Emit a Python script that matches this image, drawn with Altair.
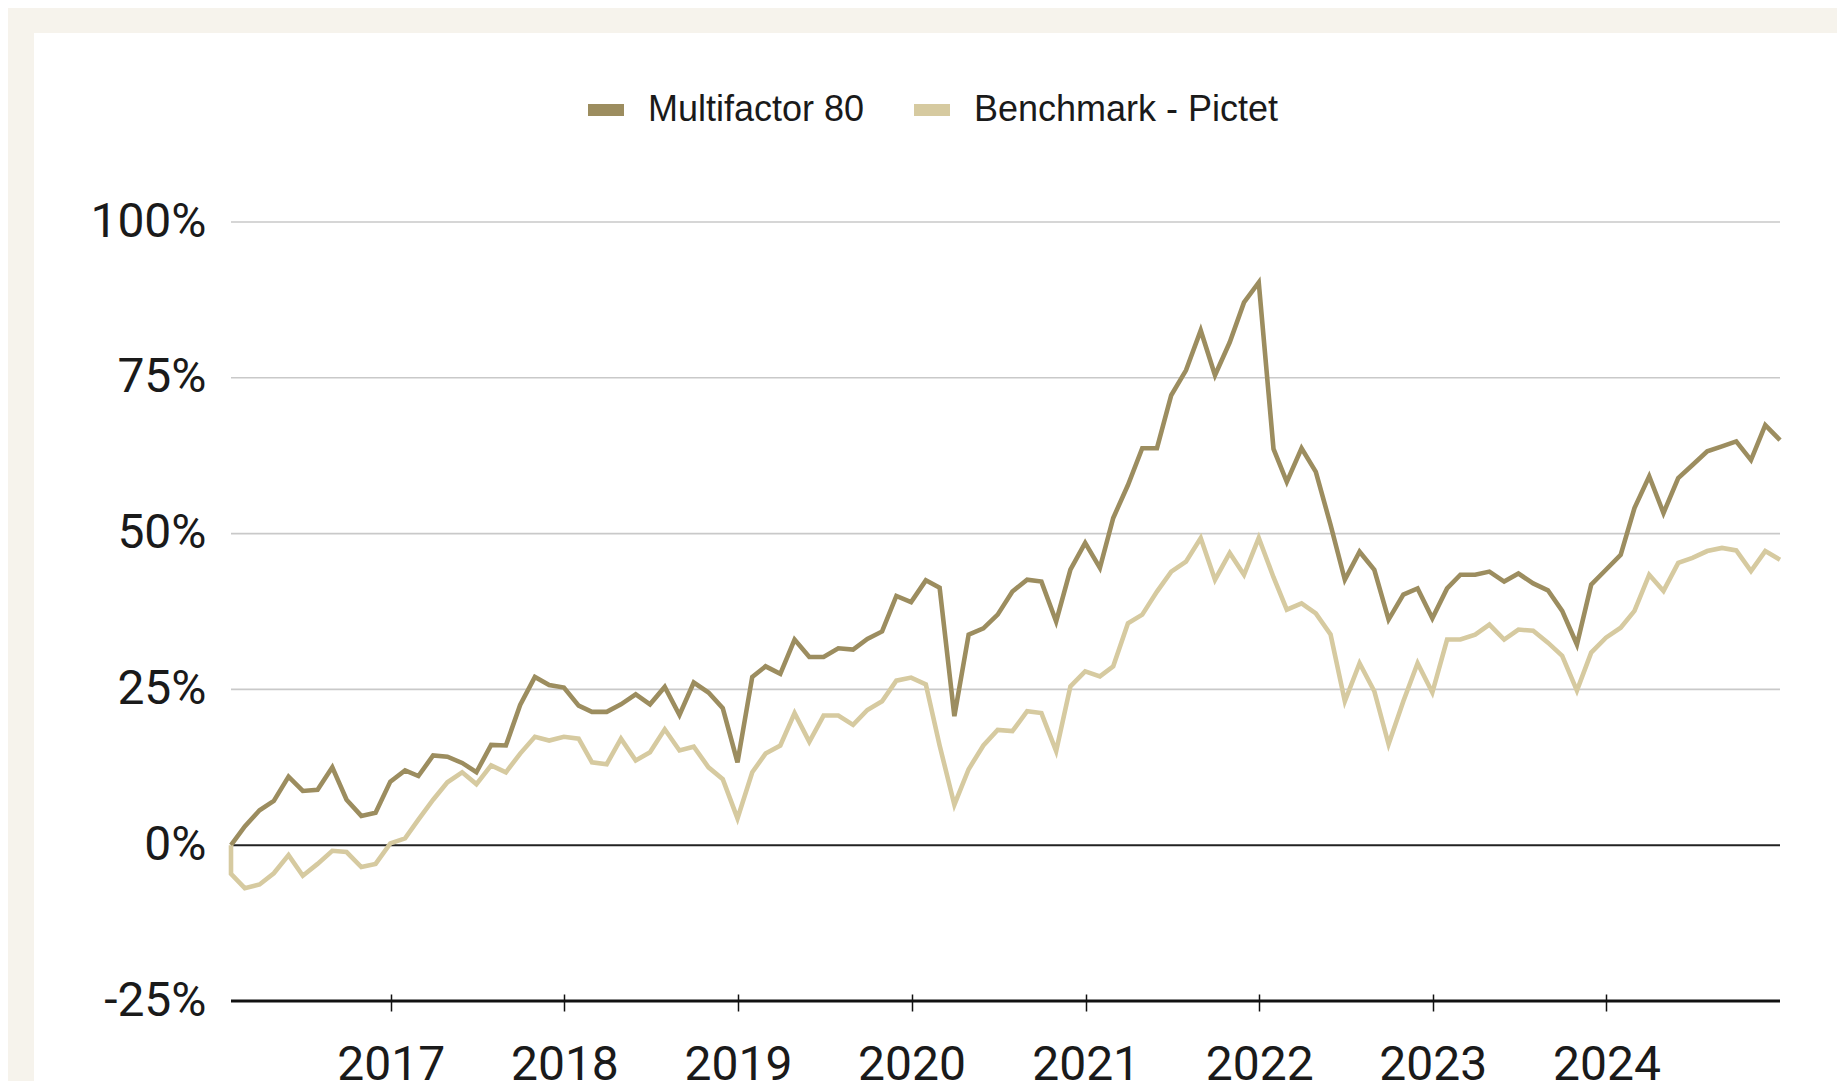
import altair as alt
import pandas as pd

# ---------------- data ----------------
series_names = ["Multifactor 80", "Benchmark - Pictet"]
line_colors = ["#9c8d5f", "#d6caa0"]

# month-end dates, Jan 2016 .. Dec 2024
dates = (pd.date_range("2016-02-01", periods=108, freq="MS") - pd.Timedelta(days=1)).strftime("%Y-%m-%d").tolist()

multifactor = [
    0.0, 3.0, 5.6, 7.1, 11.0, 8.7, 8.9, 12.5, 7.3, 4.7, 5.2, 10.2,
    12.0, 11.1, 14.4, 14.2, 13.2, 11.7, 16.1, 16.0, 22.5, 27.0, 25.7, 25.3,
    22.4, 21.4, 21.4, 22.6, 24.2, 22.6, 25.4, 20.9, 26.1, 24.5, 22.0, 13.3,
    27.0, 28.7, 27.5, 33.0, 30.2, 30.2, 31.6, 31.4, 33.1, 34.3, 40.0, 39.0,
    42.5, 41.3, 20.7, 33.8, 34.8, 37.0, 40.7, 42.6, 42.3, 35.9, 44.2, 48.5,
    44.5, 52.5, 57.8, 63.7, 63.7, 72.2, 76.2, 82.6, 75.4, 80.7, 87.1, 90.3,
    63.6, 58.3, 63.7, 59.9, 51.4, 42.6, 47.1, 44.2, 36.2, 40.2, 41.2, 36.4,
    41.2, 43.4, 43.4, 43.9, 42.3, 43.6, 42.0, 40.9, 37.6, 32.2, 41.8, 44.2,
    46.6, 54.1, 59.2, 53.3, 58.9, 61.0, 63.2, 64.0, 64.8, 61.8, 67.4, 65.0,
]

benchmark_start = 0.0
benchmark = [
    -4.6, -6.9, -6.3, -4.5, -1.6, -4.9, -3.0, -0.9, -1.1, -3.5, -3.0, 0.3,
    1.1, 4.1, 7.3, 10.1, 11.7, 9.8, 12.8, 11.7, 14.7, 17.4, 16.8, 17.4,
    17.1, 13.3, 13.0, 17.1, 13.6, 14.9, 18.6, 15.2, 15.8, 12.5, 10.6, 4.3,
    11.7, 14.7, 16.0, 21.2, 16.6, 20.8, 20.8, 19.3, 21.7, 23.1, 26.4, 26.9,
    25.8, 16.0, 6.5, 12.2, 16.0, 18.5, 18.3, 21.5, 21.2, 15.1, 25.5, 27.9,
    27.1, 28.7, 35.6, 37.0, 40.7, 43.9, 45.5, 49.3, 42.6, 46.9, 43.4, 49.3,
    43.0, 37.8, 38.8, 37.2, 33.8, 23.1, 29.2, 24.7, 16.2, 23.1, 29.2, 24.5,
    33.0, 33.0, 33.8, 35.4, 33.0, 34.6, 34.4, 32.5, 30.4, 24.8, 30.9, 33.3,
    34.9, 37.6, 43.4, 40.8, 45.3, 46.1, 47.2, 47.7, 47.3, 44.0, 47.2, 45.8,
]

y_ticks = [-0.25, 0.0, 0.25, 0.5, 0.75, 1.0]
x_tick_years = [2017, 2018, 2019, 2020, 2021, 2022, 2023, 2024]

# ---------------- tables ----------------
rows = []
for i, (d, v) in enumerate(zip(dates, multifactor)):
    rows.append({"date": d, "value": v / 100, "series": series_names[0], "order": i})
rows.append({"date": dates[0], "value": benchmark_start / 100, "series": series_names[1], "order": -1})
for i, (d, v) in enumerate(zip(dates, benchmark)):
    rows.append({"date": d, "value": v / 100, "series": series_names[1], "order": i})
df = pd.DataFrame(rows)

grid_df = pd.DataFrame({"value": [t for t in y_ticks if t > 0]})
zero_df = pd.DataFrame({"value": [0.0]})
base_df = pd.DataFrame({"value": [min(y_ticks)]})

W, H = 1549, 779
TEXT = "#1a1a1a"

y_scale = alt.Scale(domain=[min(y_ticks), max(y_ticks)], nice=False, zero=False)
y_axis = alt.Axis(
    values=y_ticks,
    labelExpr="'' + round(datum.value * 100) + '%'",
    labelFont="Roboto",
    labelFontSize=48,
    labelColor=TEXT,
    domain=False,
    ticks=False,
    tickSize=0,
    grid=False,
    labelPadding=25,
    zindex=1,
)
y_enc = alt.Y("value:Q", scale=y_scale, title=None, axis=y_axis)

card = alt.Chart(pd.DataFrame({"k": [0]})).mark_rect(color="white").encode(
    x=alt.value(-197), x2=alt.value(1610), y=alt.value(-189), y2=alt.value(900)
)

grid = alt.Chart(grid_df).mark_rule(color="#c9c9c9", strokeWidth=1.6).encode(y=y_enc)

lines = alt.Chart(df).mark_line(strokeWidth=4.6, strokeJoin="miter").encode(
    x=alt.X(
        "date:T",
        title=None,
        axis=alt.Axis(
            values=[alt.DateTime(year=y, month=1, date=1) for y in x_tick_years],
            format="%Y",
            labelFont="Roboto",
            labelFontSize=48,
            labelColor=TEXT,
            domain=False,
            ticks=True,
            tickSize=17,
            tickColor="#111111",
            tickWidth=1.5,
            offset=-7,
            labelPadding=30,
            grid=False,
            labelFlush=False,
            zindex=1,
        ),
    ),
    y=y_enc,
    color=alt.Color(
        "series:N",
        scale=alt.Scale(domain=series_names, range=line_colors),
        sort=series_names,
        legend=alt.Legend(
            title=None,
            orient="none",
            direction="horizontal",
            legendX=351,
            legendY=-136,
            symbolType="stroke",
            symbolSize=1296,
            symbolStrokeWidth=12,
            labelFont="Liberation Sans",
            labelFontSize=36,
            labelColor=TEXT,
            labelOffset=18,
            labelLimit=0,
            columnPadding=25,
            padding=0,
            zindex=1,
        ),
    ),
    order=alt.Order("order:Q"),
)

zero_rule = alt.Chart(zero_df).mark_rule(color="#222222", strokeWidth=2).encode(y=y_enc)
base_rule = alt.Chart(base_df).mark_rule(color="#111111", strokeWidth=3).encode(y=y_enc)

chart = (
    alt.layer(card, grid, zero_rule, lines, base_rule)
    .properties(
        width=W,
        height=H,
        autosize=alt.AutoSizeParams(type="none"),
        padding={"left": 223, "top": 214, "right": 57, "bottom": 80},
        background="#f6f3ec",
    )
    .configure_view(stroke=None)
)

chart.save("out.html", embed_options={"renderer": "svg", "actions": False})
